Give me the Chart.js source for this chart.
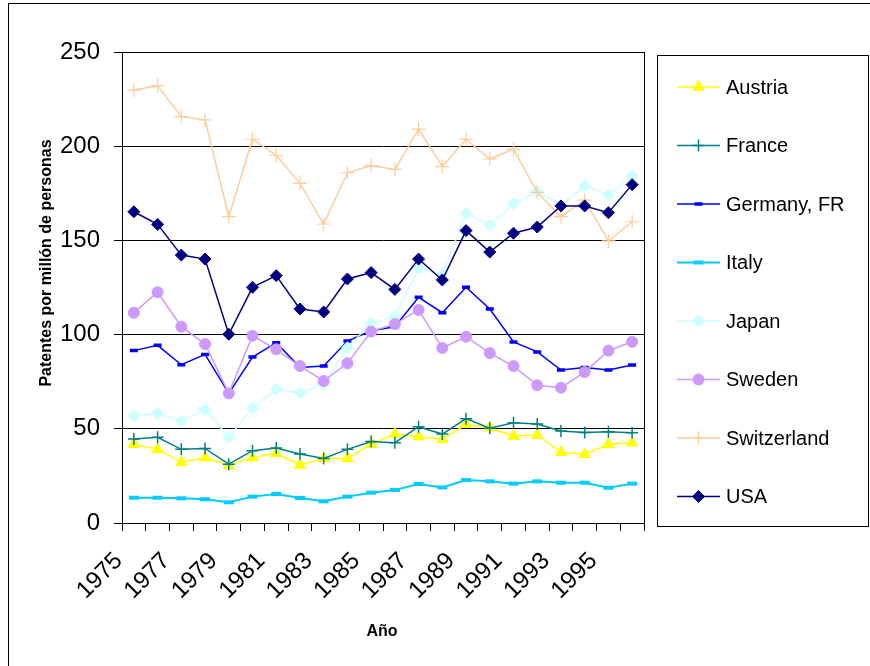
<!DOCTYPE html>
<html>
<head>
<meta charset="utf-8">
<script src="https://cdn.jsdelivr.net/npm/chart.js@4.4.1/dist/chart.umd.min.js"></script>
<style>
  html, body { margin: 0; padding: 0; background: #fff; }
  canvas { display: block; }
</style>
</head>
<body>
<canvas id="grafico" width="870" height="666"></canvas>
<script>
// datos (patentes por millon de personas)
const anos = ['1975', '1976', '1977', '1978', '1979', '1980', '1981', '1982', '1983', '1984', '1985',
              '1986', '1987', '1988', '1989', '1990', '1991', '1992', '1993', '1994', '1995', '1996'];
const austria = [41.8, 39.1, 32.2, 34.7, 30.4, 34.7, 37.0, 30.8, 34.3, 34.3, 41.9, 47.2, 45.8, 44.4, 52.4, 50.6, 46.2, 46.7, 37.5, 36.5, 41.8, 42.6];
const france = [44.6, 45.5, 39.1, 39.6, 31.2, 38.4, 39.8, 36.6, 34.3, 39.1, 43.2, 42.6, 51.1, 47.2, 55.4, 50.3, 53.2, 52.5, 48.8, 48.1, 48.5, 47.9];
const germany = [91.5, 94.3, 84.0, 89.5, 68.8, 88.1, 95.7, 82.6, 83.3, 96.6, 102.0, 104.2, 119.8, 111.6, 125.1, 113.6, 96.1, 90.8, 81.2, 82.6, 81.2, 83.9];
const italy = [13.4, 13.4, 13.1, 12.6, 11.0, 14.0, 15.4, 13.3, 11.5, 14.0, 16.1, 17.5, 20.7, 18.9, 22.8, 22.1, 20.9, 22.1, 21.4, 21.4, 18.7, 20.9];
const japan = [56.8, 58.2, 54.1, 60.3, 45.5, 61.0, 71.1, 69.2, 73.6, 93.0, 106.0, 109.5, 135.2, 132.0, 164.4, 158.0, 169.7, 175.9, 168.4, 179.0, 174.1, 184.2];
const sweden = [111.6, 122.5, 104.2, 95.0, 68.8, 99.4, 92.2, 83.3, 75.4, 84.8, 101.6, 105.6, 113.1, 92.9, 98.9, 90.2, 83.3, 73.1, 71.8, 80.1, 91.5, 96.2];
const switzerland = [229.8, 232.1, 215.7, 213.9, 162.6, 203.7, 195.2, 180.3, 158.7, 185.9, 189.7, 187.7, 209.1, 189.2, 203.7, 193.2, 198.5, 175.5, 162.6, 171.4, 149.7, 159.9];
const usa = [165.2, 158.5, 142.2, 140.1, 100.2, 125.1, 131.3, 113.6, 112.0, 129.5, 132.9, 124.0, 140.1, 129.0, 155.2, 143.8, 153.8, 157.1, 168.3, 168.3, 164.7, 179.6];

const tituloY = 'Patentes por millón de personas';
const tituloX = 'Año';

Chart.defaults.font.family = 'Arial, "Liberation Sans", sans-serif';
Chart.defaults.color = '#000';

function serie(label, data, color, pointStyle, radius, pointBorderWidth, lineWidth, index) {
    return {
        label: label,
        data: data,
        borderColor: color,
        backgroundColor: color,
        pointBackgroundColor: color,
        pointBorderColor: color,
        pointStyle: pointStyle,
        pointRadius: radius,
        pointBorderWidth: pointBorderWidth,
        borderWidth: lineWidth,
        tension: 0,
        fill: false,
        order: -index
    };
}

const datasets = [
    serie('Austria', austria, '#FFFF00', 'triangle', 6.5, 1, 1.5, 0),
    serie('France', france, '#008080', 'cross', 6, 1.5, 1.5, 1),
    serie('Germany, FR', germany, '#0000FF', 'line', 4, 3.5, 1.5, 2),
    serie('Italy', italy, '#00CCFF', 'line', 5, 4, 2, 3),
    serie('Japan', japan, '#CCFFFF', 'rectRot', 6, 1, 1.5, 4),
    serie('Sweden', sweden, '#CC99FF', 'circle', 5.5, 1, 1.5, 5),
    serie('Switzerland', switzerland, '#FFCC99', 'cross', 7, 1.2, 1.5, 6),
    serie('USA', usa, '#000080', 'rectRot', 6, 1, 1.5, 7)
];

// marcos, titulos de ejes y leyenda al estilo Excel
const marcoPlugin = {
    id: 'marco',
    afterDraw(chart) {
        const ctx = chart.ctx;
        const a = chart.chartArea;
        ctx.save();
        ctx.strokeStyle = '#000';
        ctx.lineWidth = 1;
        ctx.strokeRect(8.5, 3.5, 900, 700);
        ctx.strokeRect(Math.round(a.left) + 0.5, Math.round(a.top) + 0.5,
                       Math.round(a.right - a.left), Math.round(a.bottom - a.top));

        ctx.fillStyle = '#000';
        ctx.font = 'bold 16px Arial, "Liberation Sans", sans-serif';
        ctx.textAlign = 'center';
        ctx.textBaseline = 'alphabetic';
        ctx.fillText(tituloX, 382, 636);
        ctx.save();
        ctx.translate(50.5, 263);
        ctx.rotate(-Math.PI / 2);
        ctx.fillText(tituloY, 0, 0);
        ctx.restore();

        // leyenda
        ctx.strokeRect(657.5, 55.5, 211, 471);
        ctx.font = '20px Arial, "Liberation Sans", sans-serif';
        ctx.textAlign = 'left';
        ctx.textBaseline = 'middle';
        chart.data.datasets.forEach((ds, i) => {
            const y = 87 + i * 58.5;
            ctx.strokeStyle = ds.borderColor;
            ctx.lineWidth = ds.borderWidth;
            ctx.beginPath();
            ctx.moveTo(677, y);
            ctx.lineTo(720, y);
            ctx.stroke();
            ctx.fillStyle = ds.pointBackgroundColor;
            ctx.strokeStyle = ds.pointBorderColor;
            ctx.lineWidth = ds.pointBorderWidth;
            Chart.helpers.drawPoint(ctx, {
                pointStyle: ds.pointStyle,
                radius: ds.pointRadius,
                rotation: 0,
                borderWidth: ds.pointBorderWidth
            }, 698.5, y);
            ctx.fillStyle = '#000';
            ctx.fillText(ds.label, 726, y + 1);
        });
        ctx.restore();
    }
};

new Chart(document.getElementById('grafico').getContext('2d'), {
    type: 'line',
    data: { labels: anos, datasets: datasets },
    options: {
        responsive: false,
        animation: false,
        events: [],
        layout: { padding: { top: 52, right: 226, left: 0, bottom: 0 } },
        plugins: {
            legend: { display: false },
            tooltip: { enabled: false }
        },
        scales: {
            x: {
                offset: true,
                grid: { offset: true, drawOnChartArea: false, drawTicks: true, tickLength: 8, color: '#000' },
                border: { color: '#000', width: 1 },
                ticks: {
                    autoSkip: false,
                    minRotation: 45,
                    maxRotation: 45,
                    labelOffset: -15,
                    padding: 16,
                    font: { size: 24 },
                    color: '#000',
                    callback: function(value, index) {
                        return index % 2 === 0 ? this.getLabelForValue(value) : '';
                    }
                },
                afterFit: scale => { scale.height = 143; }
            },
            y: {
                min: 0,
                max: 250,
                grid: { color: '#000', tickLength: 8 },
                border: { color: '#000', width: 1 },
                ticks: { stepSize: 50, padding: 14, font: { size: 24 }, color: '#000' },
                afterFit: scale => { scale.width = 122; }
            }
        }
    },
    plugins: [marcoPlugin]
});
</script>
</body>
</html>
